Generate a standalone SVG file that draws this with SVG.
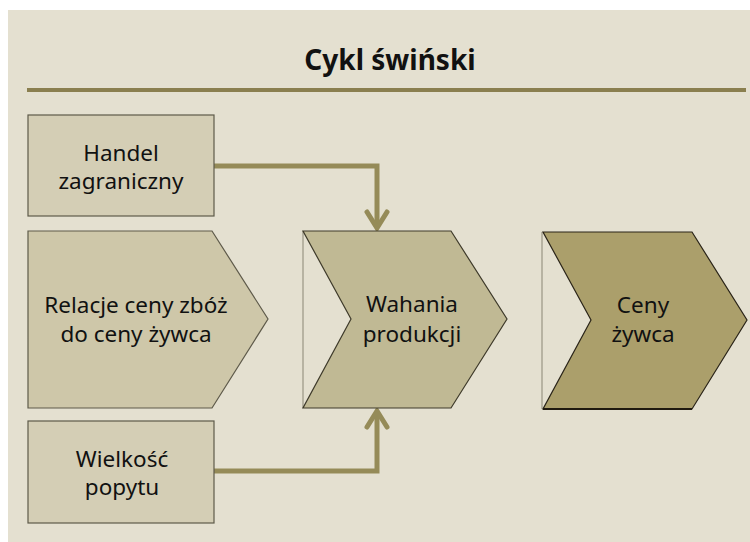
<svg xmlns="http://www.w3.org/2000/svg" width="750" height="542" viewBox="0 0 750 542">
  <style>
    .lbl { font-family: "Noto Sans", "Liberation Sans", sans-serif; font-size: 22.5px; fill: #111; text-anchor: middle; }
    .title { font-family: "Noto Sans", "Liberation Sans", sans-serif; font-size: 28px; font-weight: bold; fill: #111; text-anchor: middle; }
    .box { fill: #D4CEB5; stroke: #5E5A4A; stroke-width: 1.2; }
    .conn { fill: none; stroke: #958B58; stroke-width: 5; }
    .head { fill: none; stroke: #958B58; stroke-width: 5; stroke-linecap: round; stroke-linejoin: miter; }
    .edge { stroke: #A8A493; stroke-width: 1.5; }
  </style>

  <!-- page -->
  <rect x="0" y="0" width="750" height="542" fill="#FFFFFF"/>
  <rect x="8" y="10" width="742" height="532" fill="#E4E0D0"/>

  <!-- heading -->
  <text class="title" x="390" y="70">Cykl świński</text>
  <rect x="27" y="88" width="719" height="4" fill="#8A7F4F"/>

  <!-- connectors -->
  <g id="connectors">
    <polyline class="conn" points="214,166 377,166 377,226"/>
    <polyline class="head" points="367,212 377,228 387,212"/>
    <polyline class="conn" points="214,471 377,471 377,412"/>
    <polyline class="head" points="367,427 377,411 387,427"/>
  </g>

  <g id="handel">
    <rect class="box" x="28" y="115" width="186" height="101"/>
    <text class="lbl" x="121" y="161">Handel</text>
    <text class="lbl" x="121" y="189">zagraniczny</text>
  </g>

  <g id="relacje">
    <polygon points="28,231 212,231 268,319 212,408 28,408" fill="#CEC7A9" stroke="#5E5A4A" stroke-width="1.2"/>
    <text class="lbl" x="136" y="313">Relacje ceny zbóż</text>
    <text class="lbl" x="136" y="342">do ceny żywca</text>
  </g>

  <g id="wahania">
    <line class="edge" x1="303" y1="231" x2="303" y2="408"/>
    <polygon points="303,231 451,231 507,319 451,408 303,408 351,319" fill="#C0B994" stroke="#3E3A2A" stroke-width="1.2"/>
    <text class="lbl" x="412" y="312">Wahania</text>
    <text class="lbl" x="412" y="342">produkcji</text>
  </g>

  <g id="ceny">
    <line class="edge" x1="542" y1="232" x2="542" y2="409"/>
    <polygon points="543,232 692,232 747,320 692,409 543,409 591,320" fill="#AB9F6B" stroke="#2A2418" stroke-width="1.2"/>
    <line x1="543" y1="409" x2="692" y2="409" stroke="#201A10" stroke-width="2"/>
    <text class="lbl" x="643" y="313">Ceny</text>
    <text class="lbl" x="643" y="342">żywca</text>
  </g>

  <g id="wielkosc">
    <rect class="box" x="28" y="421" width="186" height="102"/>
    <text class="lbl" x="122" y="467">Wielkość</text>
    <text class="lbl" x="122" y="495">popytu</text>
  </g>
</svg>
